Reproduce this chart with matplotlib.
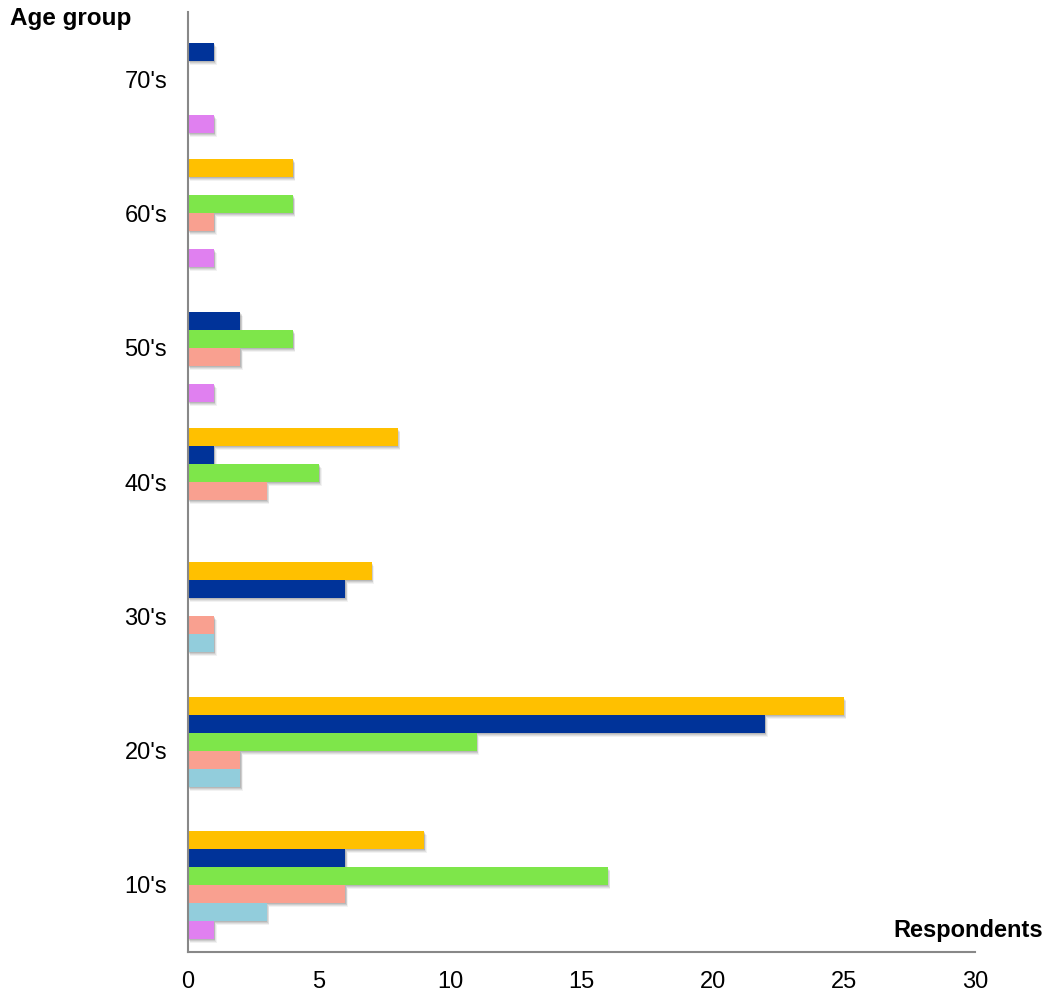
import matplotlib
matplotlib.use("Agg")
import matplotlib.pyplot as plt
import numpy as np

plt.rcParams['font.family'] = ['Liberation Sans', 'DejaVu Sans']

age_groups = ["10's", "20's", "30's", "40's", "50's", "60's", "70's"]
series_names = ["S1", "S2", "S3", "S4", "S5", "S6"]  # bottom to top in each group
violet = [1, 0, 0, 0, 1, 1, 1]
lightblue = [3, 2, 1, 0, 0, 0, 0]
salmon = [6, 2, 1, 3, 2, 1, 0]
green = [16, 11, 0, 5, 4, 4, 0]
darkblue = [6, 22, 6, 1, 2, 0, 1]
orange = [9, 25, 7, 8, 0, 4, 0]
series_values = [violet, lightblue, salmon, green, darkblue, orange]
series_colors = ["#E080F0", "#92CDDC", "#F9A090", "#7EE64A", "#003399", "#FFC000"]
x_ticks = [0, 5, 10, 15, 20, 25, 30]

fig = plt.figure(figsize=(10.62, 9.94), dpi=100)
ax = fig.add_axes([188/1062, 42/994, (975-188)/1062, (952-12)/994])

n = len(series_values)
h = 0.134
y = np.arange(len(age_groups))
px_x = 30 / (975 - 188)
px_y = 7 / (952 - 12)

for i, (vals, col) in enumerate(zip(series_values, series_colors)):
    off = (i - (n - 1) / 2) * h
    for yi, v in zip(y, vals):
        if v > 0:
            # soft shadow layers
            for k, a in [(1, 0.10), (2, 0.09), (3, 0.07), (4, 0.05)]:
                ax.barh(yi + off - k * px_y, v, left=k * px_x * 0.6, height=h,
                        color='black', alpha=a, linewidth=0, zorder=1)
            ax.barh(yi + off, v, height=h, color=col, linewidth=0, zorder=2)

ax.set_ylim(-0.5, 6.5)
ax.set_xlim(0, 30)
ax.set_xticks(x_ticks)
ax.set_xticklabels([str(t) for t in x_ticks], fontsize=17)
ax.set_yticks(y)
ax.set_yticklabels(age_groups, fontsize=17)
ax.tick_params(axis='x', length=0, pad=14)
ax.tick_params(axis='y', length=0, pad=15)
for s in ['top', 'right']:
    ax.spines[s].set_visible(False)
for s in ['left', 'bottom']:
    ax.spines[s].set_color('#888888')
    ax.spines[s].set_linewidth(1.5)
    ax.spines[s].set_zorder(3)

fig.text(10/1062, 1 - 18/994, "Age group", fontsize=17.5, fontweight='bold', ha='left', va='center')
fig.text(1043/1062, 1 - 930/994, "Respondents", fontsize=17, fontweight='bold', ha='right', va='center')

fig.savefig("out.png", dpi=100)
